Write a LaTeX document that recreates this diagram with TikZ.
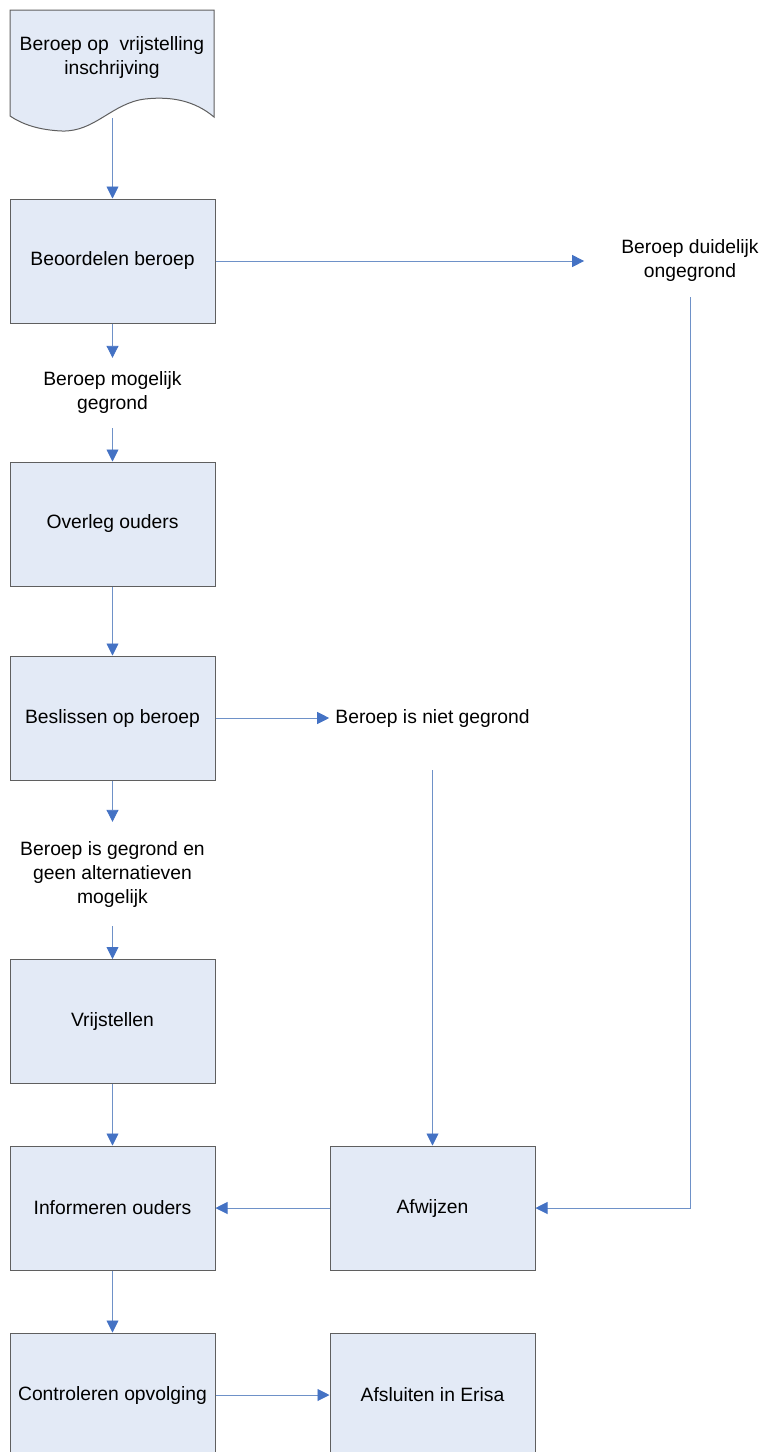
\documentclass[tikz,border=0pt]{standalone}
\usepackage{fontspec}
\setmainfont{Liberation Sans}
\usetikzlibrary{arrows.meta}
\definecolor{boxfill}{RGB}{227,234,246}
\definecolor{boxline}{RGB}{95,95,95}
\definecolor{conn}{RGB}{110,145,200}
\definecolor{tipblue}{RGB}{68,114,196}
\begin{document}
\begin{tikzpicture}[x=1pt,y=-1pt,
  every node/.style={font=\fontsize{19.3}{24}\selectfont},
  stepbox/.style={draw=boxline, fill=boxfill, line width=1pt, minimum width=205pt, minimum height=124pt, inner sep=0pt, align=center},
  lbl/.style={align=center, inner xsep=0pt},
  conn/.style={draw=conn, line width=0.9pt},
  arr/.style={conn, -{Triangle[length=12pt,width=12pt,color=tipblue,fill=tipblue]}}]
\useasboundingbox (0,0) rectangle (766,1452);
\clip (0,0) rectangle (766,1452);
% document shape
\draw[draw=boxline, fill=boxfill, line width=1pt]
  (10,10) -- (214,10) -- (214,117)
  .. controls (195,101) and (172,96) .. (145,99)
  .. controls (112,103) and (95,132) .. (62,131)
  .. controls (38,130) and (22,124) .. (10,116) -- cycle;
\node[lbl, inner ysep=0pt] (doc) at (112,58) {Beroep op\ \ vrijstelling\\inschrijving};
\coordinate (docb) at (112.5,118);

\node[stepbox] (b1) at (112.5,261) {Beoordelen beroep};
\node[stepbox] (b2) at (112.5,524) {Overleg ouders};
\node[stepbox] (b3) at (112.5,718) {Beslissen op beroep};
\node[stepbox] (b4) at (112.5,1021.5) {Vrijstellen};
\node[stepbox] (b5) at (112.5,1208) {Informeren ouders};
\node[stepbox] (afw) at (432.5,1208) {Afwijzen};
\node[stepbox] (b6) at (112.5,1395) {Controleren opvolging};
\node[stepbox] (b7) at (432.5,1395) {Afsluiten in Erisa};

\node[lbl, inner ysep=14pt] (l1) at (112.5,393) {Beroep mogelijk\\gegrond};
\node[lbl, inner ysep=19pt] (l3) at (112.5,874) {Beroep is gegrond en\\geen alternatieven\\mogelijk};
\node[lbl, inner ysep=15pt] (lr) at (690,261) {Beroep duidelijk\\ongegrond};
\node[lbl, inner ysep=0pt, inner xsep=6pt] (l2) at (432.5,718) {Beroep is niet gegrond};

\draw[arr] (docb) -- (b1.north);
\draw[arr] (b1.east) -- ([xshift=-37pt]lr.west |- b1.east);
\draw[arr] (lr.south) |- (afw.east);
\draw[arr] (b1.south) -- (l1.north);
\draw[arr] (l1.south) -- (b2.north);
\draw[arr] (b2.south) -- (b3.north);
\draw[arr] (b3.east) -- (l2.west);
\draw[arr] ([yshift=-52pt]l2.center) -- (afw.north);
\draw[arr] (b3.south) -- (l3.north);
\draw[arr] (l3.south) -- (b4.north);
\draw[arr] (b4.south) -- (b5.north);
\draw[arr] (afw.west) -- (b5.east);
\draw[arr] (b5.south) -- (b6.north);
\draw[arr] (b6.east) -- (b7.west);
\end{tikzpicture}
\end{document}
